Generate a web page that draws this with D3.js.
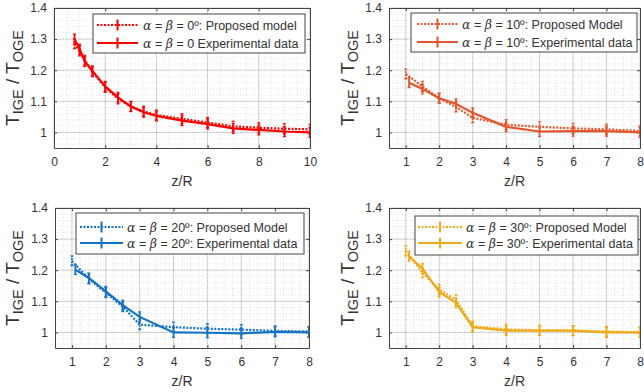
<!DOCTYPE html>
<html><head><meta charset="utf-8">
<script src="https://cdn.jsdelivr.net/npm/d3@7"></script>
<style>
html,body{margin:0;padding:0;background:#fff;overflow:hidden}
svg{display:block}
text{font-family:"Liberation Sans",Arial,Helvetica,sans-serif;fill:#333}
</style></head>
<body>
<svg id="chart" width="644" height="392"></svg>
<script>
// ---- data ----
const zTL = [0.8, 1.0, 1.2, 1.5, 2, 2.5, 3, 3.5, 4, 5, 6, 7, 8, 9, 10];
const expTL = [1.300, 1.268, 1.228, 1.198, 1.148, 1.113, 1.083, 1.065, 1.053, 1.038, 1.027, 1.013, 1.008, 1.003, 1.000];
const modTL = [1.285, 1.262, 1.232, 1.195, 1.145, 1.108, 1.084, 1.068, 1.056, 1.044, 1.032, 1.020, 1.015, 1.012, 1.010];

const zExp = [1.1, 1.5, 2, 2.5, 3, 4, 5, 6, 7, 8];
const zMod = [1.0, 1.5, 2, 2.5, 3, 4, 5, 6, 7, 8];
const exp10 = [1.160, 1.140, 1.110, 1.092, 1.063, 1.018, 1.003, 1.004, 1.004, 1.000];
const mod10 = [1.188, 1.148, 1.110, 1.082, 1.047, 1.025, 1.018, 1.013, 1.010, 1.005];
const exp20 = [1.202, 1.175, 1.132, 1.088, 1.050, 1.000, 0.999, 0.997, 1.002, 1.000];
const mod20 = [1.230, 1.172, 1.128, 1.083, 1.025, 1.017, 1.012, 1.009, 1.005, 1.003];
const exp30 = [1.245, 1.205, 1.130, 1.095, 1.017, 1.006, 1.006, 1.006, 1.000, 1.000];
const mod30 = [1.262, 1.192, 1.138, 1.105, 1.020, 1.010, 1.007, 1.006, 1.003, 1.000];

const errHalf = 0.016;

const yTicks = [1, 1.1, 1.2, 1.3, 1.4];
const xTicksTL = [0, 2, 4, 6, 8, 10];
const xTicksOther = [1, 2, 3, 4, 5, 6, 7, 8];

const panels = [
  {xDom:[0,10], xTicks:xTicksTL, xMinor:0.5, xr:[54,310], yr:[148,8], color:"#ff0000",
   zE:zTL, e:expTL, zM:zTL, m:modTL,
   leg:{x0:93,x1:305,y0:14,y1:53,s0:97,s1:138,tx:143,r1:25,r2:43},
   labels:["α = β = 0º: Proposed model","α = β = 0 Experimental data"],
   ylx:19},
  {xDom:[0.5,8], xTicks:xTicksOther, xMinor:0.25, xr:[389,640], yr:[148,8], color:"#e5542a",
   zE:zExp, e:exp10, zM:zMod, m:mod10,
   leg:{x0:411,x1:637,y0:13,y1:52,s0:417,s1:458,tx:462,r1:24,r2:42},
   labels:["α = β = 10º: Proposed Model","α = β = 10º: Experimental data"],
   ylx:354},
  {xDom:[0.5,8], xTicks:xTicksOther, xMinor:0.25, xr:[55,309], yr:[348,208], color:"#1272c4",
   zE:zExp, e:exp20, zM:zMod, m:mod20,
   leg:{x0:76,x1:304,y0:213,y1:254,s0:80,s1:123,tx:127,r1:227,r2:243},
   labels:["α = β = 20º: Proposed Model","α = β = 20º: Experimental data"],
   ylx:19},
  {xDom:[0.5,8], xTicks:xTicksOther, xMinor:0.25, xr:[389,640], yr:[348,208], color:"#efaa18",
   zE:zExp, e:exp30, zM:zMod, m:mod30,
   leg:{x0:415,x1:638,y0:216,y1:255,s0:418,s1:462,tx:466,r1:227,r2:243},
   labels:["α = β = 30º: Proposed Model","α = β= 30º: Experimental data"],
   ylx:354}
];

const svg = d3.select("#chart");

function richLabel(sel, str){
  const parts = str.split(/([αβ])/);
  parts.forEach(p=>{
    if(!p) return;
    const t = sel.append("tspan").text(p);
    if(p==="α"||p==="β"){ t.style("font-family","'DejaVu Serif','Liberation Serif',serif").style("font-style","italic"); }
  });
}

panels.forEach((p,i)=>{
  const x = d3.scaleLinear().domain(p.xDom).range(p.xr);
  const y = d3.scaleLinear().domain([0.95,1.4]).range(p.yr);
  const g = svg.append("g");
  const [X0,X1] = p.xr, [Y0,Y1] = p.yr;

  const clipId = "clip"+i;
  svg.append("clipPath").attr("id",clipId).append("rect")
    .attr("x",X0).attr("y",Y1).attr("width",X1-X0).attr("height",Y0-Y1);

  g.append("rect").attr("x",X0).attr("y",Y1).attr("width",X1-X0).attr("height",Y0-Y1).attr("fill","#fff");

  // minor grid
  const xMinor = d3.range(p.xDom[0], p.xDom[1]+1e-9, p.xMinor);
  const yMinor = d3.range(0.96, 1.4+1e-9, 0.02);
  g.append("g").selectAll("line").data(xMinor).join("line")
    .attr("x1",d=>x(d)).attr("x2",d=>x(d)).attr("y1",Y1).attr("y2",Y0)
    .attr("stroke","#000").attr("stroke-opacity",0.15).attr("stroke-dasharray","1,2").attr("stroke-width",0.8);
  g.append("g").selectAll("line").data(yMinor).join("line")
    .attr("x1",X0).attr("x2",X1).attr("y1",d=>y(d)).attr("y2",d=>y(d))
    .attr("stroke","#000").attr("stroke-opacity",0.15).attr("stroke-dasharray","1,2").attr("stroke-width",0.8);
  // major grid
  g.append("g").selectAll("line").data(p.xTicks).join("line")
    .attr("x1",d=>x(d)).attr("x2",d=>x(d)).attr("y1",Y1).attr("y2",Y0)
    .attr("stroke","#000").attr("stroke-opacity",0.2).attr("stroke-width",0.8);
  g.append("g").selectAll("line").data(yTicks).join("line")
    .attr("x1",X0).attr("x2",X1).attr("y1",d=>y(d)).attr("y2",d=>y(d))
    .attr("stroke","#000").attr("stroke-opacity",0.2).attr("stroke-width",0.8);

  // axes
  const ax = d3.axisBottom(x).tickValues(p.xTicks).tickFormat(d3.format("")).tickSizeInner(-3).tickSizeOuter(0).tickPadding(9);
  const gx = g.append("g").attr("transform",`translate(0,${Y0})`).call(ax);
  const ay = d3.axisLeft(y).tickValues(yTicks).tickFormat(d=>d===1?"1":d3.format(".1f")(d)).tickSizeInner(-3).tickSizeOuter(0).tickPadding(7);
  const gy = g.append("g").attr("transform",`translate(${X0},0)`).call(ay);
  const axTop = d3.axisTop(x).tickValues(p.xTicks).tickFormat("").tickSizeInner(-3).tickSizeOuter(0);
  const gxt = g.append("g").attr("transform",`translate(0,${Y1})`).call(axTop);
  const ayR = d3.axisRight(y).tickValues(yTicks).tickFormat("").tickSizeInner(-3).tickSizeOuter(0);
  const gyr = g.append("g").attr("transform",`translate(${X1},0)`).call(ayR);
  [gx,gy,gxt,gyr].forEach(a=>{
    a.select(".domain").attr("stroke","#444").attr("stroke-width",1);
    a.selectAll(".tick line").attr("stroke","#444");
    a.selectAll(".tick text").attr("fill","#333").style("font-size","12px").style("font-family","'Liberation Sans',Arial,sans-serif");
  });

  // data lines
  const dg = g.append("g").attr("clip-path",`url(#${clipId})`);
  const line = d3.line().x(d=>x(d[0])).y(d=>y(d[1]));
  const mData = p.zM.map((z,k)=>[z,p.m[k]]);
  const eData = p.zE.map((z,k)=>[z,p.e[k]]);
  function series(data, dashed){
    dg.append("path").datum(data).attr("d",line).attr("fill","none")
      .attr("stroke",p.color).attr("stroke-width",2.2)
      .attr("stroke-dasharray",dashed?"2,1.5":null);
    const eb = dg.append("g");
    data.forEach(d=>{
      const cx = x(d[0]), ylo = y(d[1]-errHalf), yhi = y(d[1]+errHalf);
      eb.append("line").attr("x1",cx).attr("x2",cx).attr("y1",ylo).attr("y2",yhi)
        .attr("stroke",p.color).attr("stroke-width",1.8).attr("stroke-dasharray",dashed?"2,1":null);
      [ylo,yhi].forEach(yy=>eb.append("line").attr("x1",cx-1.5).attr("x2",cx+1.5).attr("y1",yy).attr("y2",yy)
        .attr("stroke",p.color).attr("stroke-width",1.2));
    });
  }
  series(mData,true);
  series(eData,false);

  // legend
  const L = p.leg;
  g.append("rect").attr("x",L.x0).attr("y",L.y0).attr("width",L.x1-L.x0).attr("height",L.y1-L.y0)
    .attr("fill","#fff").attr("stroke","#444").attr("stroke-width",1);
  [[L.r1,true],[L.r2,false]].forEach(([ry,dashed],k)=>{
    g.append("line").attr("x1",L.s0).attr("x2",L.s1).attr("y1",ry).attr("y2",ry)
      .attr("stroke",p.color).attr("stroke-width",2.2).attr("stroke-dasharray",dashed?"2,1.5":null);
    const cx=(L.s0+L.s1)/2;
    g.append("line").attr("x1",cx).attr("x2",cx).attr("y1",ry-5.5).attr("y2",ry+5.5)
      .attr("stroke",p.color).attr("stroke-width",2);
    const t = g.append("text").attr("x",L.tx).attr("y",ry+4.5).style("font-size","12.5px").attr("fill","#222");
    richLabel(t, p.labels[k]);
  });

  // axis labels
  g.append("text").attr("x",(X0+X1)/2).attr("y",Y0+38).attr("text-anchor","middle")
    .style("font-size","14px").text("z/R");
  const yl = g.append("text").attr("transform",`translate(${p.ylx},${(Y0+Y1)/2}) rotate(-90)`)
    .attr("text-anchor","middle").style("font-size","19px");
  yl.append("tspan").text("T");
  yl.append("tspan").attr("dy",4).style("font-size","14.5px").text("IGE");
  yl.append("tspan").attr("dy",-4).text(" / T");
  yl.append("tspan").attr("dy",4).style("font-size","14.5px").text("OGE");
});
</script>
</body></html>
